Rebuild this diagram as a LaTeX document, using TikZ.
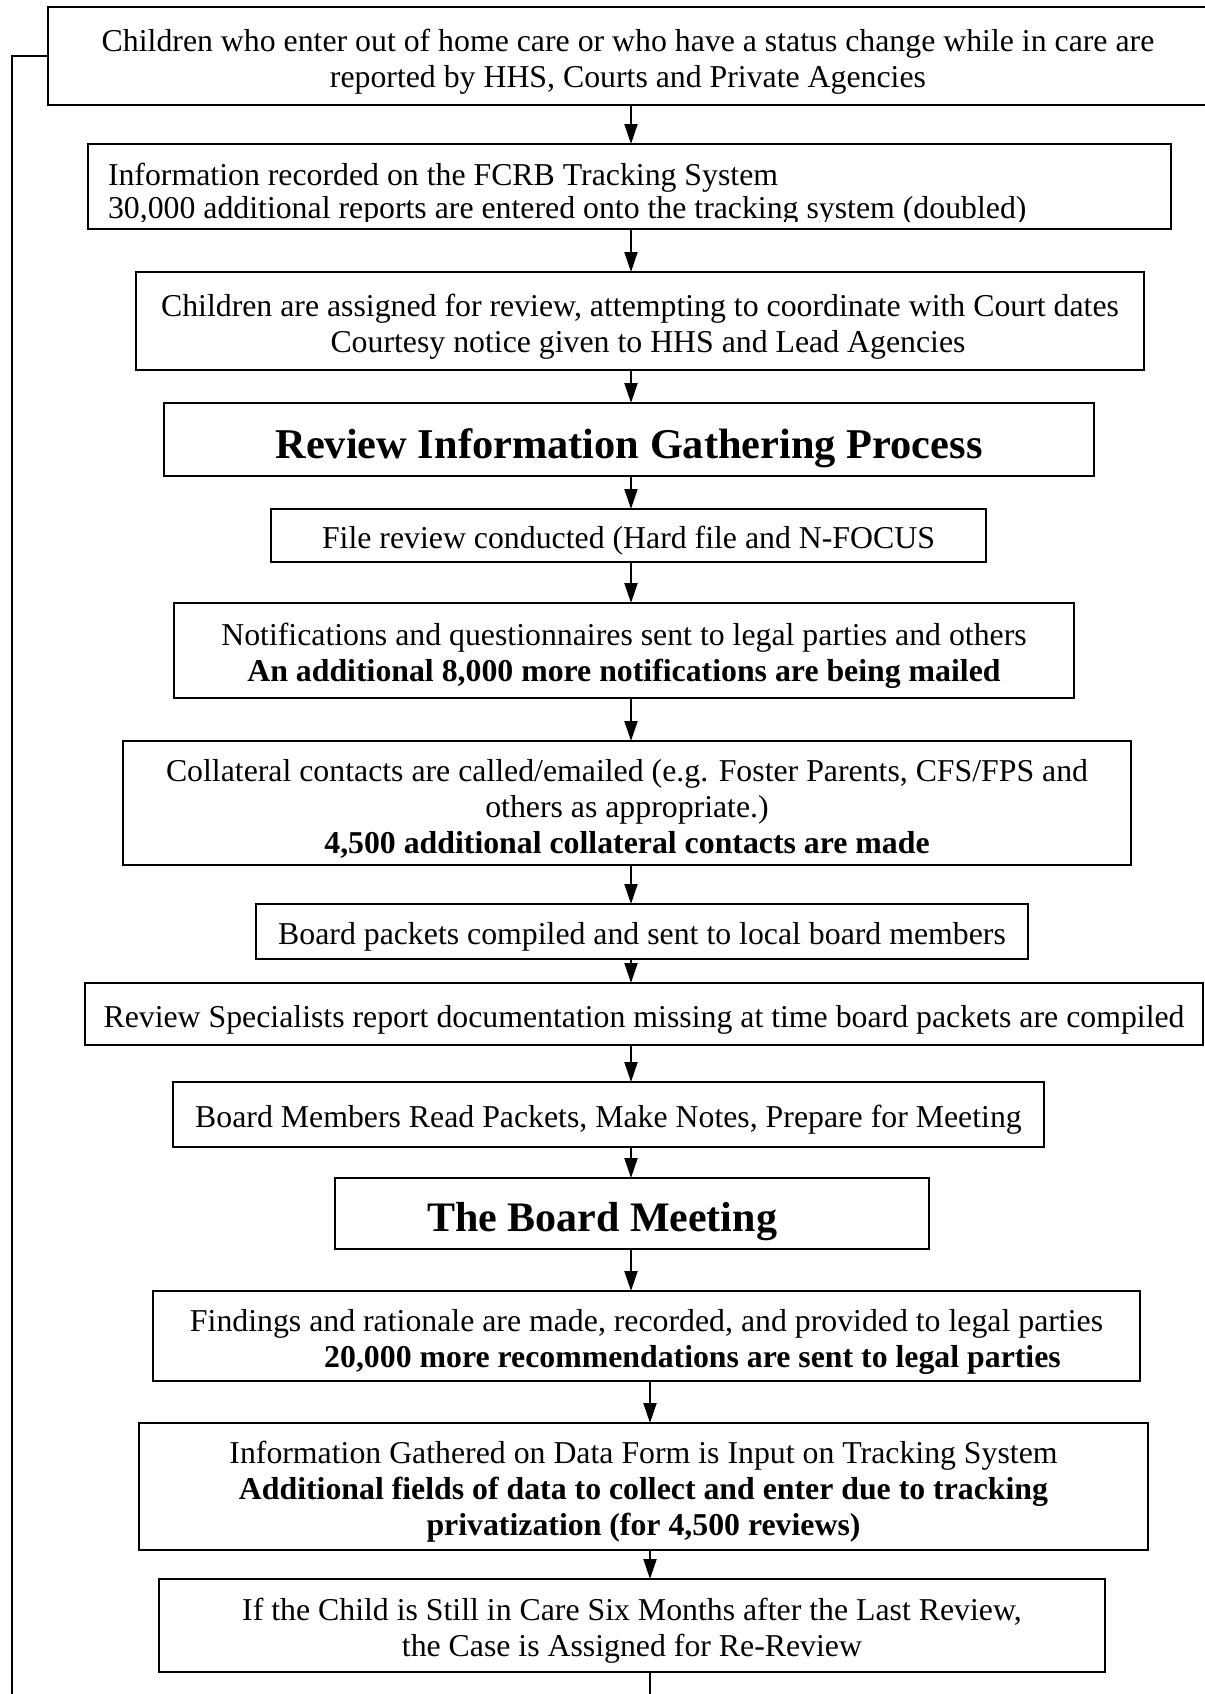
\documentclass[tikz,border=0pt]{standalone}
\usepackage{fontspec}
\setmainfont{Liberation Serif}
\usetikzlibrary{arrows.meta}
\newcommand\flowbox[7][box]{%
  \node[frame, minimum width={(#5-#3)*0.5pt}, minimum height={(#6-#4)*0.5pt}]
    (#2) at ({(#3+#5)/2},{(#4+#6)/2}) {};
  \node[#1] (#2t) at (#2.center) {#7};}
\begin{document}
\begin{tikzpicture}[x=0.5pt,y=-0.5pt,
  frame/.style={draw=black, line width=1.2pt, inner sep=0pt, outer sep=0pt},
  box/.style={inner sep=0pt, outer sep=0pt, yshift=-2.75pt,
    align=center, font=\fontsize{15.9pt}{18pt}\selectfont},
  headbox/.style={box, yshift=-1.5pt, font=\fontsize{21.2pt}{25pt}\selectfont\bfseries},
  bigbox/.style={box, yshift=-1.5pt, font=\fontsize{21pt}{25pt}\selectfont\bfseries},
  txt/.style={inner sep=0pt, outer sep=0pt, font=\fontsize{15.9pt}{16pt}\selectfont},
  arr/.style={line width=1pt, -{Triangle[length=10pt,width=6.5pt]}},
  loopline/.style={line width=1pt}]
\useasboundingbox (0,0) rectangle (1205,1694);
\clip (0,0) rectangle (1205,1694);

\flowbox{b1}{48}{7}{1208}{105}{Children who enter out of home care or who have a status change while in care are\\reported by HHS, Courts and Private Agencies}
\node[frame, minimum width={(1171-88)*0.5pt}, minimum height={(229-144)*0.5pt}] (b2) at ({(88+1171)/2},{(144+229)/2}) {};
\begin{scope}
  \clip (88,144) rectangle (1171,221);
  \node[txt, anchor=base west] (t2a) at (108,185) {Information recorded on the FCRB Tracking System};
  \node[txt, anchor=base west] (t2b) at (108,218) {30,000 additional reports are entered onto the tracking system (doubled)};
\end{scope}
\flowbox{b3}{136}{272}{1144}{370}{Children are assigned for review, attempting to coordinate with Court dates\\\hspace*{8pt}Courtesy notice given to HHS and Lead Agencies}
\flowbox[headbox]{b4}{164}{403}{1094}{476}{Review Information Gathering Process}
\flowbox{b5}{271}{509}{986}{562}{File review conducted (Hard file and N-FOCUS}
\flowbox{b6}{174}{603}{1074}{698}{Notifications and questionnaires sent to legal parties and others\\\textbf{An additional 8,000 more notifications are being mailed}}
\flowbox{b7}{123}{741}{1131}{865}{Collateral contacts are called/emailed (e.g. Foster Parents, CFS/FPS and\\others as appropriate.)\\\textbf{4,500 additional collateral contacts are made}}
\flowbox{b8}{256}{904}{1028}{959}{Board packets compiled and sent to local board members}
\flowbox{b9}{85}{983}{1203}{1045}{Review Specialists report documentation missing at time board packets are compiled}
\flowbox{b10}{173}{1082}{1044}{1147}{Board Members Read Packets, Make Notes, Prepare for Meeting}
\flowbox[bigbox]{b11}{335}{1178}{929}{1249}{The Board Meeting\hspace*{30pt}}
\flowbox{b12}{153}{1291}{1140}{1381}{Findings and rationale are made, recorded, and provided to legal parties\\\hspace*{46pt}\textbf{20,000 more recommendations are sent to legal parties}}
\flowbox{b13}{139}{1423}{1148}{1550}{Information Gathered on Data Form is Input on Tracking System\\\textbf{Additional fields of data to collect and enter due to tracking}\\\textbf{privatization (for 4,500 reviews)}}
\flowbox{b14}{159}{1579}{1105}{1672}{If the Child is Still in Care Six Months after the Last Review,\\the Case is Assigned for Re-Review}

\coordinate (ca) at (631,0);
\coordinate (cb) at (650,0);
\draw[arr] (b1.south -| ca) -- (b2.north -| ca);
\draw[arr] (b2.south -| ca) -- (b3.north -| ca);
\draw[arr] (b3.south -| ca) -- (b4.north -| ca);
\draw[arr] (b4.south -| ca) -- (b5.north -| ca);
\draw[arr] (b5.south -| ca) -- (b6.north -| ca);
\draw[arr] (b6.south -| ca) -- (b7.north -| ca);
\draw[arr] (b7.south -| ca) -- (b8.north -| ca);
\draw[arr] (b8.south -| ca) -- (b9.north -| ca);
\draw[arr] (b9.south -| ca) -- (b10.north -| ca);
\draw[arr] (b10.south -| ca) -- (b11.north -| ca);
\draw[arr] (b11.south -| ca) -- (b12.north -| ca);
\draw[arr] (b12.south -| cb) -- (b13.north -| cb);
\draw[arr] (b13.south -| cb) -- (b14.north -| cb);
\coordinate (endB) at (650,1694);
\coordinate (endL) at (12,1694);
\draw[loopline] (b14.south -| cb) -- (endB);
\draw[loopline] (endL) |- (b1.west);
\end{tikzpicture}
\end{document}
